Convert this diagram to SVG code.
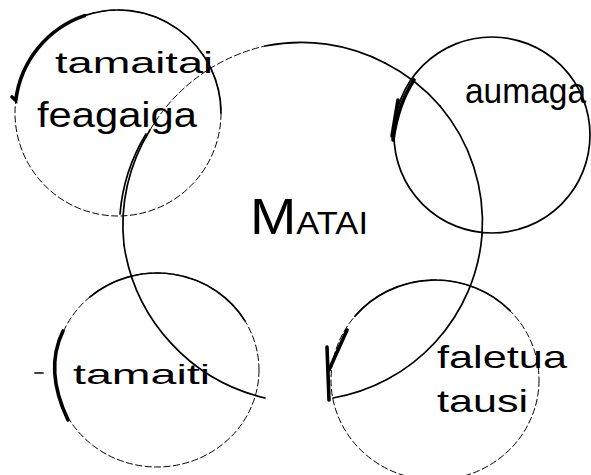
<svg xmlns="http://www.w3.org/2000/svg" width="591" height="475" viewBox="0 0 591 475">
<style>
.ln{fill:none;stroke:#000;stroke-width:1.7;stroke-linecap:round;stroke-linejoin:round}
.th{fill:none;stroke:#000;stroke-width:1;stroke-dasharray:7 2.5}
.hv{fill:none;stroke:#000;stroke-width:3.6;stroke-linecap:round}
.tx{font-family:"Liberation Sans",Arial,sans-serif;fill:#000}
</style>
<rect width="591" height="475" fill="#fff"/>
<g id="matai">
<path class="ln" d="M265 398 A185 185 0 0 1 124 245"/>
<path class="ln" d="M124 245 A180 180 0 0 1 150 130"/>
<path class="ln" stroke-width="1.2" d="M146 134 A182 182 0 0 0 120 214"/>
<path class="th" d="M150 130 A180 180 0 0 1 265 46"/>
<path class="ln" d="M265 46 A180 180 0 0 1 385 63"/>
<path class="ln" stroke-width="2.4" d="M385 63 A180 180 0 0 1 440 106"/>
<path class="ln" d="M440 106 A180 180 0 0 1 482 235"/>
<path class="ln" d="M482 235 A180 180 0 0 1 333 398"/>
<text class="tx" x="250" y="234" textLength="118" lengthAdjust="spacingAndGlyphs"><tspan font-size="50">M</tspan><tspan font-size="31">ATAI</tspan></text>
</g>
<g id="tamaitai-feagaiga">
<circle class="th" cx="118" cy="113" r="103"/>
<path class="ln" stroke-width="1.2" d="M84.5 15.6 A103 103 0 0 1 221 113"/>
<path class="hv" stroke-width="3" d="M12 97 L15.8 100.4 A103 103 0 0 1 84.5 15.6"/>
<text class="tx" x="55" y="73" font-size="30" textLength="158" lengthAdjust="spacingAndGlyphs">tamaitai</text>
<text class="tx" x="37" y="127" font-size="35" textLength="160" lengthAdjust="spacingAndGlyphs">feagaiga</text>
</g>
<g id="aumaga">
<circle class="ln" stroke-width="1.3" cx="492" cy="135" r="98"/>
<path class="hv" d="M414 80 Q398 104 393 140"/>
<path class="hv" stroke-width="2" d="M398 100 L392 136"/>
<text class="tx" x="465" y="103" font-size="35" textLength="121" lengthAdjust="spacingAndGlyphs">aumaga</text>
</g>
<g id="tamaiti">
<ellipse class="th" cx="157" cy="370" rx="102" ry="97"/>
<path class="ln" stroke-width="1.3" d="M90 296.9 A102 97 0 0 1 245 320.9"/>
<path class="hv" d="M63 331 Q44 370 68 420"/>
<path class="ln" stroke-width="1.3" d="M35 373 L43 373"/>
<text class="tx" x="73" y="384" font-size="28" textLength="137" lengthAdjust="spacingAndGlyphs">tamaiti</text>
</g>
<g id="faletua-tausi">
<ellipse class="th" cx="435" cy="380" rx="104" ry="100"/>
<path class="ln" stroke-width="1.3" d="M355 316.1 A104 100 0 0 1 510 310.7"/>
<path class="hv" d="M347 330 L329 370"/>
<path class="hv" d="M327 347 L329 400"/>
<text class="tx" x="437" y="368" font-size="32" textLength="130" lengthAdjust="spacingAndGlyphs">faletua</text>
<text class="tx" x="437" y="412" font-size="32" textLength="91" lengthAdjust="spacingAndGlyphs">tausi</text>
</g>
</svg>
